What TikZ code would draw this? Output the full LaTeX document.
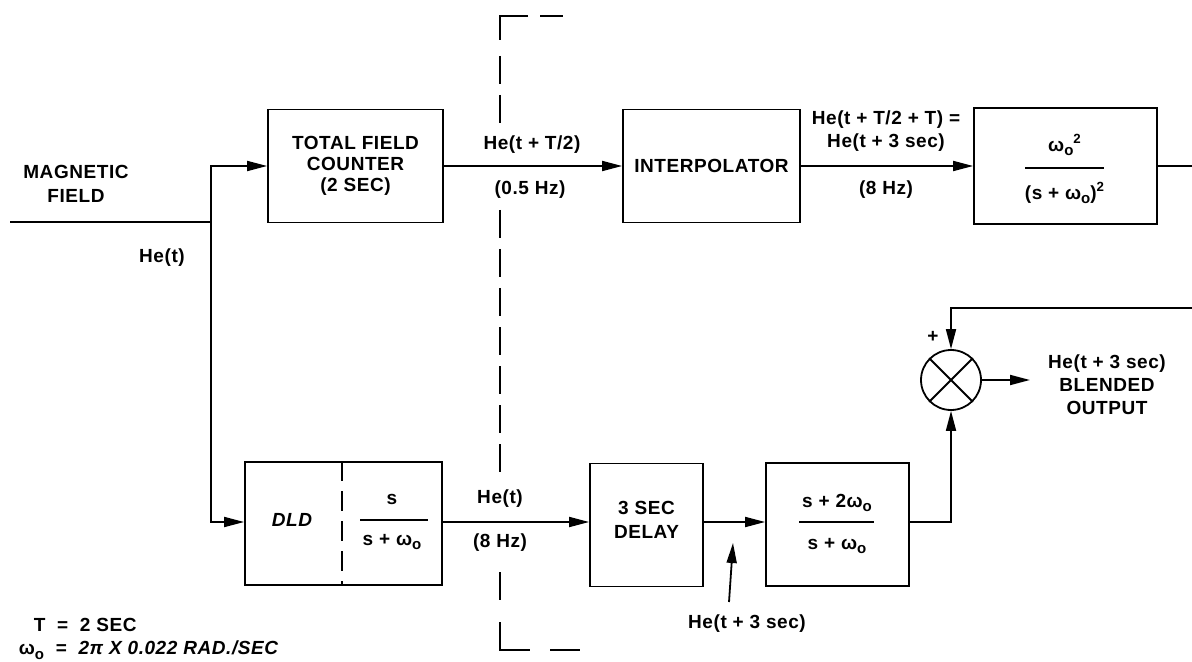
\documentclass[tikz,border=0pt]{standalone}
\usepackage{fontspec}
\setmainfont{Liberation Sans}[LetterSpace=3]
\usetikzlibrary{arrows.meta}
\newcommand\wo{ω\raisebox{-0.45ex}{\fontsize{7.5}{8}\selectfont o}}
\begin{document}
\begin{tikzpicture}[x=0.5pt,y=-0.5pt,
  line width=0.9pt,
  every node/.style={font=\fontsize{9.5}{10.5}\selectfont\bfseries, inner sep=0pt},
  blk/.style={draw, line width=0.9pt, rectangle, align=center},
  lbl/.style={align=center},
  sig/.style={-{Triangle[length=10pt,width=5pt]}},
  cut/.style={line width=1pt, dash pattern=on 14pt off 5.5pt},
]
\useasboundingbox (0,0) rectangle (1192,662);

% blocks
\node[blk, minimum width=87.5pt, minimum height=56.5pt] (tfc) at (355.5,166) {TOTAL FIELD\\COUNTER\\(2 SEC)};
\node[blk, minimum width=88.5pt, minimum height=56.5pt] (interp) at (711.5,166) {INTERPOLATOR};
\node[blk, minimum width=91.5pt, minimum height=58pt] (lp) at (1065.5,166) {};
\node[blk, minimum width=98.5pt, minimum height=61.5pt] (dld) at (343.5,523.5) {};
\node[blk, minimum width=56.5pt, minimum height=61.5pt] (delay) at (646.5,525) {};
\node[lbl] (delaytxt) at (646.5,520) {3 SEC\\[1.5pt]DELAY};
\node[blk, minimum width=71.5pt, minimum height=61.5pt] (hp) at (837.5,524.5) {};
\node[draw, circle, line width=0.9pt, minimum size=30pt] (sum) at (951,380) {};
\draw (sum.north west) -- (sum.south east) (sum.north east) -- (sum.south west);

% block contents
\node (lpnum) at (1065,145) {\wo\textsuperscript{2}};
\node (lpden) at (1065,193) {(s + \wo)\textsuperscript{2}};
\draw (1025,168) -- (1104,168);
\node (dldtxt) at (292,520) {\itshape DLD};
\draw[line width=1pt, dash pattern=on 10pt off 5pt] (dld.north -| 342,0) -- (dld.south -| 342,0);
\node (hpfnum) at (392,499) {s};
\node (hpfden) at (392,542) {s + \wo};
\draw (360,520) -- (428,520);
\node (hp2num) at (837,503) {s + 2\wo};
\node (hp2den) at (837,546) {s + \wo};
\draw (799,522) -- (874,522);

% input and branch
\node[lbl] (mag) at (76,184) {MAGNETIC\\[1.5pt]FIELD};
\coordinate (in) at (10,222);
\coordinate (br) at (211,222);
\coordinate (brt) at (211,166);
\coordinate (brb) at (211,522);
\draw (in) -- (br);
\draw[sig] (br) -- (brt) -- (tfc.west |- brt);
\draw[sig] (br) -- (brb) -- (dld.west |- brb);
\node (het) at (162,258) {He(t)};

% top path
\draw[sig] (tfc.east |- 0,166) -- (interp.west |- 0,166);
\node (l1) at (532,145) {He(t + T/2)};
\node (l2) at (530,190) {(0.5 Hz)};
\draw[sig] (interp.east |- 0,166) -- (lp.west |- 0,166);
\node[lbl] (l3) at (886,131) {He(t + T/2 + T) =\\[1pt]He(t + 3 sec)};
\node (l4) at (886,190) {(8 Hz)};
\coordinate (lpout) at (1192,166);
\draw (lp.east |- lpout) -- (lpout);

% feedback into sum
\coordinate (fb) at (1192,308);
\coordinate (fbc) at (951,308);
\draw[sig] (fb) -- (fbc) -- (sum.north);
\node (plus) at (933,337) {+};

% bottom path
\draw[sig] (dld.east |- 0,522) -- (delay.west |- 0,522);
\node (l5) at (500,499) {He(t)};
\node (l6) at (500,543) {(8 Hz)};
\draw[sig] (delay.east |- 0,522) -- (hp.west |- 0,522);
\coordinate (hpc) at (951,522);
\draw[sig] (hp.east |- hpc) -- (hpc) -- (sum.south);
\coordinate (pt) at (729,602);
\draw[sig] (pt) -- (733,543);
\node (l7) at (747,624) {He(t + 3 sec)};

% output
\coordinate (outend) at (1030,380);
\draw[sig] (sum.east) -- (outend);
\node[lbl] (out) at (1107,385) {He(t + 3 sec)\\[1pt]BLENDED\\[1pt]OUTPUT};

% cut line
\draw[line width=1pt] (528,16) -- (500,16) -- (500,40);
\draw[line width=1pt] (540,16) -- (563,16);
\draw[cut] (500,56) -- (500,125);
\draw[cut] (500,210) -- (500,480);
\draw[cut] (500,572) -- (500,605);
\draw[line width=1pt] (500,622) -- (500,650) -- (530,650);
\draw[line width=1pt] (550,650) -- (580,650);

% notes
\node[anchor=west] (n1) at (33,625) {T \ = \ 2 SEC};
\node[anchor=west] (n2) at (18,650) {\wo\ \ = \ \itshape 2π X 0.022 RAD./SEC};
\end{tikzpicture}
\end{document}
